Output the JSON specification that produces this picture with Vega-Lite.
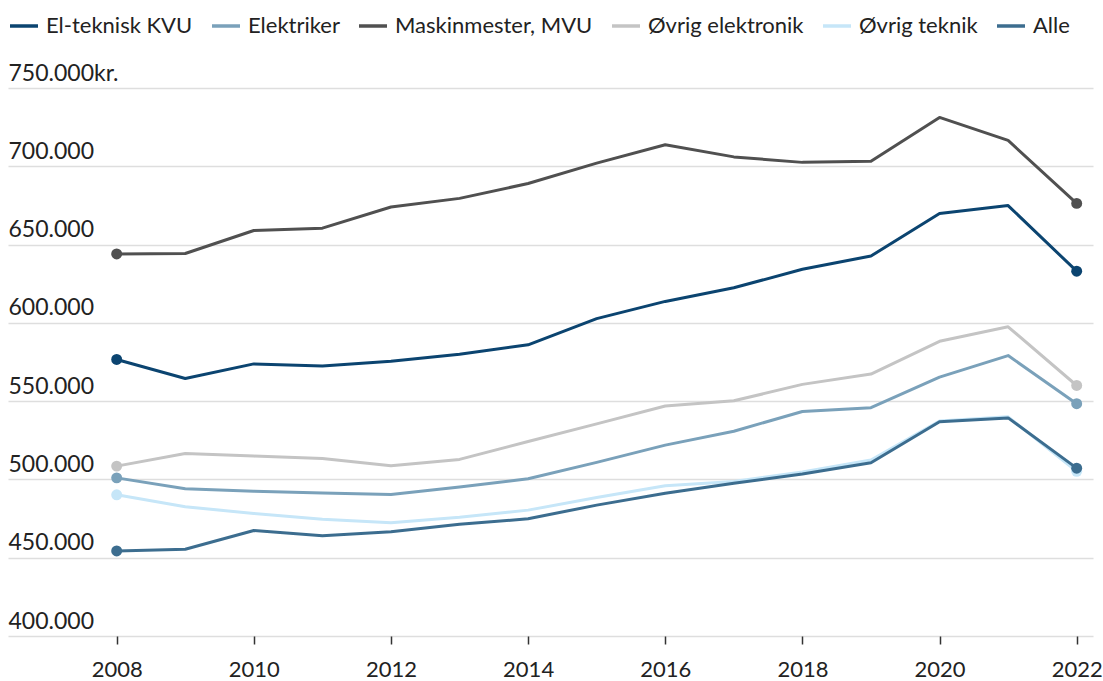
{
  "$schema": "https://vega.github.io/schema/vega-lite/v6.json",
  "autosize": {"type": "none"},
  "padding": {"left": 8, "top": 88, "right": 10, "bottom": 45},
  "width": 1085,
  "height": 548,
  "background": "#ffffff",
  "config": {
    "font": "Lato",
    "view": {"stroke": null},
    "axis": {"labelFont": "Lato", "labelFontSize": 23, "labelColor": "#222222"},
    "legend": {"labelFont": "Lato", "labelFontSize": 22, "labelColor": "#222222"}
  },
  "data": {
    "values": [
      {"series": "Maskinmester, MVU", "year": 2008, "value": 644000},
      {"series": "Maskinmester, MVU", "year": 2009, "value": 644300},
      {"series": "Maskinmester, MVU", "year": 2010, "value": 659000},
      {"series": "Maskinmester, MVU", "year": 2011, "value": 660500},
      {"series": "Maskinmester, MVU", "year": 2012, "value": 674000},
      {"series": "Maskinmester, MVU", "year": 2013, "value": 679500},
      {"series": "Maskinmester, MVU", "year": 2014, "value": 689000},
      {"series": "Maskinmester, MVU", "year": 2015, "value": 702000},
      {"series": "Maskinmester, MVU", "year": 2016, "value": 713800},
      {"series": "Maskinmester, MVU", "year": 2017, "value": 706000},
      {"series": "Maskinmester, MVU", "year": 2018, "value": 702500},
      {"series": "Maskinmester, MVU", "year": 2019, "value": 703200},
      {"series": "Maskinmester, MVU", "year": 2020, "value": 731200},
      {"series": "Maskinmester, MVU", "year": 2021, "value": 716500},
      {"series": "Maskinmester, MVU", "year": 2022, "value": 676300},
      {"series": "El-teknisk KVU", "year": 2008, "value": 576600},
      {"series": "El-teknisk KVU", "year": 2009, "value": 564500},
      {"series": "El-teknisk KVU", "year": 2010, "value": 573800},
      {"series": "El-teknisk KVU", "year": 2011, "value": 572400},
      {"series": "El-teknisk KVU", "year": 2012, "value": 575500},
      {"series": "El-teknisk KVU", "year": 2013, "value": 580000},
      {"series": "El-teknisk KVU", "year": 2014, "value": 586000},
      {"series": "El-teknisk KVU", "year": 2015, "value": 602700},
      {"series": "El-teknisk KVU", "year": 2016, "value": 613700},
      {"series": "El-teknisk KVU", "year": 2017, "value": 622400},
      {"series": "El-teknisk KVU", "year": 2018, "value": 634200},
      {"series": "El-teknisk KVU", "year": 2019, "value": 642700},
      {"series": "El-teknisk KVU", "year": 2020, "value": 669800},
      {"series": "El-teknisk KVU", "year": 2021, "value": 674900},
      {"series": "El-teknisk KVU", "year": 2022, "value": 633000},
      {"series": "Øvrig elektronik", "year": 2008, "value": 508500},
      {"series": "Øvrig elektronik", "year": 2009, "value": 516600},
      {"series": "Øvrig elektronik", "year": 2010, "value": 514900},
      {"series": "Øvrig elektronik", "year": 2011, "value": 513300},
      {"series": "Øvrig elektronik", "year": 2012, "value": 508700},
      {"series": "Øvrig elektronik", "year": 2013, "value": 512800},
      {"series": "Øvrig elektronik", "year": 2014, "value": 524200},
      {"series": "Øvrig elektronik", "year": 2015, "value": 535500},
      {"series": "Øvrig elektronik", "year": 2016, "value": 546900},
      {"series": "Øvrig elektronik", "year": 2017, "value": 550200},
      {"series": "Øvrig elektronik", "year": 2018, "value": 560700},
      {"series": "Øvrig elektronik", "year": 2019, "value": 567300},
      {"series": "Øvrig elektronik", "year": 2020, "value": 588200},
      {"series": "Øvrig elektronik", "year": 2021, "value": 597500},
      {"series": "Øvrig elektronik", "year": 2022, "value": 560000},
      {"series": "Elektriker", "year": 2008, "value": 501000},
      {"series": "Elektriker", "year": 2009, "value": 494000},
      {"series": "Elektriker", "year": 2010, "value": 492500},
      {"series": "Elektriker", "year": 2011, "value": 491400},
      {"series": "Elektriker", "year": 2012, "value": 490400},
      {"series": "Elektriker", "year": 2013, "value": 495200},
      {"series": "Elektriker", "year": 2014, "value": 500400},
      {"series": "Elektriker", "year": 2015, "value": 510900},
      {"series": "Elektriker", "year": 2016, "value": 521900},
      {"series": "Elektriker", "year": 2017, "value": 530800},
      {"series": "Elektriker", "year": 2018, "value": 543400},
      {"series": "Elektriker", "year": 2019, "value": 545800},
      {"series": "Elektriker", "year": 2020, "value": 565300},
      {"series": "Elektriker", "year": 2021, "value": 579100},
      {"series": "Elektriker", "year": 2022, "value": 548400},
      {"series": "Øvrig teknik", "year": 2008, "value": 490200},
      {"series": "Øvrig teknik", "year": 2009, "value": 482500},
      {"series": "Øvrig teknik", "year": 2010, "value": 478300},
      {"series": "Øvrig teknik", "year": 2011, "value": 474500},
      {"series": "Øvrig teknik", "year": 2012, "value": 472300},
      {"series": "Øvrig teknik", "year": 2013, "value": 475800},
      {"series": "Øvrig teknik", "year": 2014, "value": 480400},
      {"series": "Øvrig teknik", "year": 2015, "value": 488400},
      {"series": "Øvrig teknik", "year": 2016, "value": 495900},
      {"series": "Øvrig teknik", "year": 2017, "value": 498700},
      {"series": "Øvrig teknik", "year": 2018, "value": 504800},
      {"series": "Øvrig teknik", "year": 2019, "value": 512400},
      {"series": "Øvrig teknik", "year": 2020, "value": 537300},
      {"series": "Øvrig teknik", "year": 2021, "value": 540000},
      {"series": "Øvrig teknik", "year": 2022, "value": 505200},
      {"series": "Alle", "year": 2008, "value": 454300},
      {"series": "Alle", "year": 2009, "value": 455400},
      {"series": "Alle", "year": 2010, "value": 467400},
      {"series": "Alle", "year": 2011, "value": 464000},
      {"series": "Alle", "year": 2012, "value": 466600},
      {"series": "Alle", "year": 2013, "value": 471300},
      {"series": "Alle", "year": 2014, "value": 474900},
      {"series": "Alle", "year": 2015, "value": 483600},
      {"series": "Alle", "year": 2016, "value": 491200},
      {"series": "Alle", "year": 2017, "value": 497600},
      {"series": "Alle", "year": 2018, "value": 503400},
      {"series": "Alle", "year": 2019, "value": 510600},
      {"series": "Alle", "year": 2020, "value": 536800},
      {"series": "Alle", "year": 2021, "value": 539300},
      {"series": "Alle", "year": 2022, "value": 507200}
    ]
  },
  "encoding": {
    "x": {
      "field": "year",
      "type": "quantitative",
      "scale": {"domain": [2006.415, 2022.238], "nice": false, "zero": false},
      "axis": {
        "title": null,
        "values": [2008, 2010, 2012, 2014, 2016, 2018, 2020, 2022],
        "format": "d",
        "grid": false,
        "domain": false,
        "ticks": true,
        "tickSize": 8,
        "tickWidth": 1.5,
        "tickColor": "#333333",
        "labelFontSize": 22,
        "labelPadding": 15,
        "labelFlush": false
      }
    },
    "y": {
      "field": "value",
      "type": "quantitative",
      "scale": {"domain": [400000, 750000], "nice": false, "zero": false},
      "axis": {
        "title": null,
        "values": [400000, 450000, 500000, 550000, 600000, 650000, 700000, 750000],
        "labelExpr": "datum.value == 750000 ? '750.000kr.' : replace(format(datum.value, ','), ',', '.')",
        "domain": false,
        "ticks": false,
        "grid": true,
        "gridColor": "#dedede",
        "gridWidth": 1.5,
        "labelAlign": "left",
        "labelBaseline": "alphabetic",
        "labelPadding": 0,
        "labelOffset": -8,
        "labelFlush": false
      }
    },
    "color": {
      "field": "series",
      "type": "nominal",
      "scale": {
        "domain": ["El-teknisk KVU", "Elektriker", "Maskinmester, MVU", "Øvrig elektronik", "Øvrig teknik", "Alle"],
        "range": ["#0b4470", "#7aa1ba", "#505050", "#c4c4c4", "#c6e6f8", "#3c6d8f"]
      },
      "legend": {
        "title": null,
        "orient": "none",
        "direction": "horizontal",
        "columns": 6,
        "legendX": 0,
        "legendY": -78,
        "symbolType": "stroke",
        "symbolSize": 784,
        "symbolStrokeWidth": 3.5,
        "labelOffset": 6,
        "labelLimit": 0,
        "columnPadding": 12
      }
    }
  },
  "layer": [
    {
      "mark": {"type": "line", "strokeWidth": 3, "strokeJoin": "round"}
    },
    {
      "transform": [{"filter": "datum.year == 2008 || datum.year == 2022"}],
      "mark": {"type": "circle", "size": 120, "opacity": 1}
    }
  ]
}
